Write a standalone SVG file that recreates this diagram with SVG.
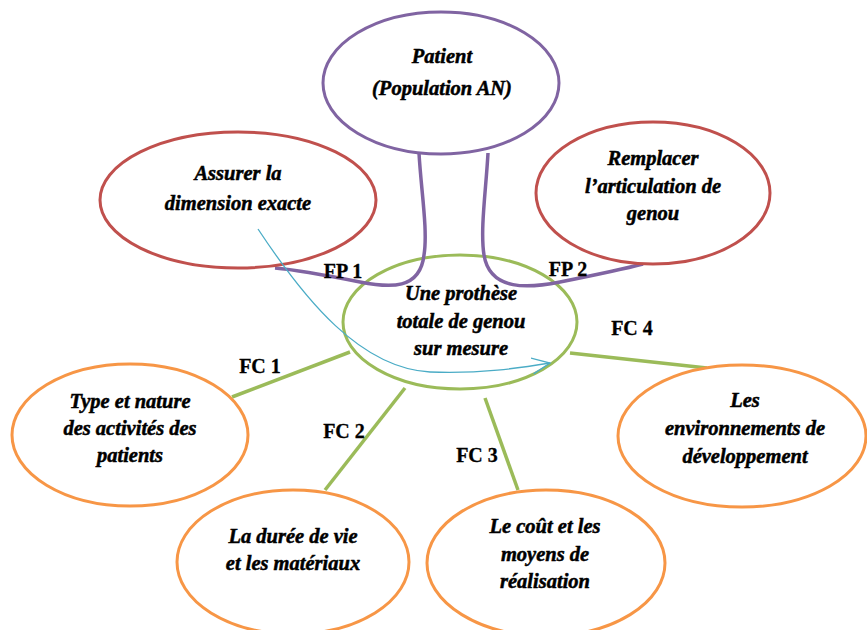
<svg xmlns="http://www.w3.org/2000/svg" width="867" height="630" viewBox="0 0 867 630">
<defs>
<style>
.bg{fill:#ffffff}
.e{fill:#ffffff;stroke-width:3}
.pur{stroke:#8064A2}
.red{stroke:#C0504D}
.grn{stroke:#9BBB59}
.org{stroke:#F79646}
.t{font-family:"Liberation Serif","Times New Roman",serif;font-size:20.5px;font-weight:bold;font-style:italic;fill:#000;stroke:#000;stroke-width:0.5;text-anchor:middle}
.lbl{font-family:"Liberation Serif","Times New Roman",serif;font-size:20px;font-weight:bold;fill:#000;stroke:#000;stroke-width:0.3;text-anchor:middle}
.gl{stroke:#9BBB59;stroke-width:3.5;fill:none}
.pl{stroke:#8064A2;stroke-width:3.5;fill:none}
</style>
<marker id="arr" viewBox="0 0 20 20" refX="18" refY="10" markerWidth="20" markerHeight="20" markerUnits="userSpaceOnUse" orient="auto">
<path d="M0,2 L18,10 L0,18" fill="none" stroke="#4BACC6" stroke-width="1.3"/>
</marker>
</defs>
<rect class="bg" x="0" y="0" width="867" height="630"/>
<g id="connectors">
<path class="gl" d="M232,397 L350,352"/>
<path class="gl" d="M325,490 L405,388"/>
<path class="gl" d="M485,398 L518,490"/>
<path class="gl" d="M570,353 L707,368"/>
</g>
<g id="center">
<ellipse class="e grn" cx="460" cy="322" rx="117" ry="67"/>
</g>
<g id="purple-links">
<path class="pl" d="M419,153 C421,190 428,230 424,255 C420,290 390,288 360,282 C330,276 300,270 275,268"/>
<path class="pl" d="M488,153 C486,190 480,230 484,255 C490,292 530,288 560,282 C590,276 620,270 643,264"/>
</g>
<g id="patient">
<ellipse class="e pur" cx="441" cy="83" rx="118" ry="71"/>
<text class="t" x="442" y="63">Patient</text>
<text class="t" x="442" y="95">(Population AN)</text>
</g>
<g id="assurer">
<ellipse class="e red" cx="238" cy="200" rx="138" ry="68"/>
<text class="t" x="238" y="180">Assurer la</text>
<text class="t" x="238" y="210">dimension exacte</text>
</g>
<g id="remplacer">
<ellipse class="e red" cx="653" cy="193" rx="117" ry="71"/>
<text class="t" x="653" y="165">Remplacer</text>
<text class="t" x="653" y="193">l’articulation de</text>
<text class="t" x="653" y="220">genou</text>
</g>
<g id="center-text">
<text class="t" x="461" y="300">Une prothèse</text>
<text class="t" x="461" y="328">totale de genou</text>
<text class="t" x="461" y="355">sur mesure</text>
</g>
<g id="type">
<ellipse class="e org" cx="130" cy="435" rx="118" ry="71"/>
<text class="t" x="130" y="408">Type et nature</text>
<text class="t" x="130" y="435">des activités des</text>
<text class="t" x="130" y="462">patients</text>
</g>
<g id="duree">
<ellipse class="e org" cx="293" cy="562" rx="116" ry="72"/>
<text class="t" x="293" y="543">La durée de vie</text>
<text class="t" x="293" y="570">et les matériaux</text>
</g>
<g id="cout">
<ellipse class="e org" cx="546" cy="563" rx="119" ry="73"/>
<text class="t" x="545" y="533">Le coût et les</text>
<text class="t" x="545" y="561">moyens de</text>
<text class="t" x="545" y="588">réalisation</text>
</g>
<g id="env">
<ellipse class="e org" cx="742" cy="436" rx="124" ry="71"/>
<text class="t" x="745" y="407">Les</text>
<text class="t" x="745" y="435">environnements de</text>
<text class="t" x="745" y="463">développement</text>
</g>
<g id="labels">
<text class="lbl" x="343" y="278">FP 1</text>
<text class="lbl" x="568" y="276">FP 2</text>
<text class="lbl" x="260" y="373">FC 1</text>
<text class="lbl" x="344" y="438">FC 2</text>
<text class="lbl" x="477" y="462">FC 3</text>
<text class="lbl" x="632" y="335">FC 4</text>
</g>
<g id="arrow">
<path d="M258,229 C305,300 360,368 430,372 C480,374 520,368 550,363" fill="none" stroke="#4BACC6" stroke-width="1.3" marker-end="url(#arr)"/>
</g>
</svg>
